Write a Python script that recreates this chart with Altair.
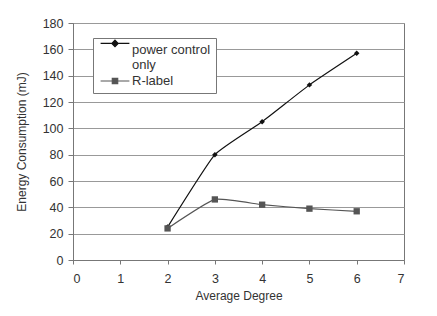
import altair as alt
import pandas as pd

degrees = [2, 3, 4, 5, 6]
power_control = [25, 80, 105, 133, 157]
r_label = [24, 46, 42, 39, 37]
series_names = ["power control only", "R-label"]

rows = []
for d, v in zip(degrees, power_control):
    rows.append({"degree": d, "energy": v, "series": series_names[0]})
for d, v in zip(degrees, r_label):
    rows.append({"degree": d, "energy": v, "series": series_names[1]})
df = pd.DataFrame(rows)

FONT = "Liberation Sans"
line_colors = ["#111111", "#555555"]

# legend glyphs: a short line with the marker on it (first one raised to sit on the first label line)
diamond_path = "M-2.4,-1.1H2.4M0,-1.63L0.53,-1.1L0,-0.57L-0.53,-1.1Z"
square_path = "M-2.4,0H2.4M-0.45,-0.45H0.45V0.45H-0.45Z"

x_enc = alt.X(
    "degree:Q",
    scale=alt.Scale(domain=[0, 7], nice=False),
    axis=alt.Axis(values=[0, 1, 2, 3, 4, 5, 6, 7], title="Average Degree", grid=False,
                  labelPadding=8, titlePadding=6, tickSize=4, labelOverlap=False),
)
y_enc = alt.Y(
    "energy:Q",
    scale=alt.Scale(domain=[0, 180], nice=False),
    axis=alt.Axis(values=list(range(0, 181, 20)), title="Energy Consumption (mJ)",
                  grid=True, labelPadding=5, titlePadding=14, tickSize=5, labelOverlap=False),
)

base = alt.Chart(df)

layers = []
for name, col, shp, sz in zip(series_names, line_colors, ["diamond", "square"], [30, 40]):
    sub = base.transform_filter(alt.datum.series == name)
    layers.append(
        sub.mark_line(interpolate="cardinal", tension=0.6, strokeWidth=1.2, color=col).encode(x=x_enc, y=y_enc)
    )
    layers.append(
        sub.mark_point(filled=True, opacity=1, shape=shp, size=sz, color=col).encode(x=x_enc, y=y_enc)
    )

legend_def = alt.Legend(
    title=None,
    orient="none",
    legendX=20,
    legendY=15,
    symbolSize=144,
    symbolOffset=10,
    symbolStrokeWidth=1.2,
    symbolOpacity=1,
    labelFont=FONT,
    labelFontSize=13,
    labelColor="#333333",
    labelBaseline="middle",
    labelOffset=10,
    labelExpr="datum.label == 'power control only' ? ['power control', 'only'] : datum.label",
    strokeColor="#777777",
    fillColor="white",
    padding=5,
    rowPadding=2,
)

legend_layer = base.mark_point(filled=True, opacity=0).encode(
    x=x_enc,
    y=y_enc,
    color=alt.Color("series:N", scale=alt.Scale(domain=series_names, range=line_colors), legend=legend_def),
    stroke=alt.Stroke("series:N", scale=alt.Scale(domain=series_names, range=line_colors), legend=legend_def),
    shape=alt.Shape("series:N", scale=alt.Scale(domain=series_names, range=[diamond_path, square_path]), legend=legend_def),
)
layers.append(legend_layer)

chart = (
    alt.layer(*layers)
    .properties(width=331, height=237, autosize=alt.AutoSizeParams(type="none"),
                padding={"left": 65, "top": 15, "right": 25, "bottom": 45})
    .configure_view(stroke="#777777", strokeWidth=1)
    .configure_axis(
        labelFont=FONT, labelFontSize=12.5, labelColor="#333333",
        titleFont=FONT, titleFontSize=12, titleFontWeight="normal", titleColor="#333333",
        gridColor="#999999", gridWidth=1, domainColor="#777777", tickColor="#777777",
    )
)

chart.save("out.html", embed_options={"renderer": "svg", "actions": False})
